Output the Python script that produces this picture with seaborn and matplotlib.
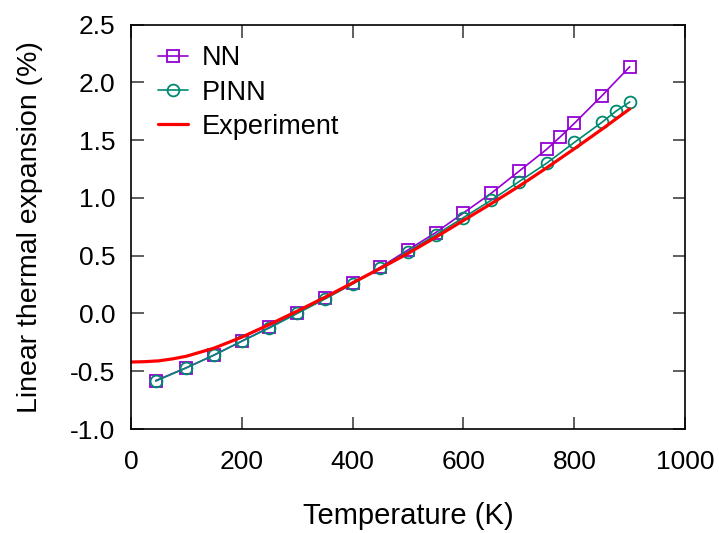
import numpy as np
import pandas as pd
import seaborn as sns
import matplotlib
matplotlib.use("Agg")
import matplotlib.pyplot as plt

# values
t_nn = [45, 100, 150, 200, 250, 300, 350, 400, 450, 500, 550, 600, 650, 700, 750, 775, 800, 850, 900]
nn = [-0.58, -0.47, -0.36, -0.24, -0.12, 0.005, 0.13, 0.26, 0.40, 0.55, 0.70, 0.87, 1.04, 1.23, 1.42, 1.53, 1.645, 1.885, 2.135]

t_pinn = [45, 100, 150, 200, 250, 300, 350, 400, 450, 500, 550, 600, 650, 700, 750, 800, 850, 875, 900]
pinn = [-0.585, -0.47, -0.36, -0.24, -0.125, 0.0, 0.125, 0.255, 0.395, 0.535, 0.68, 0.83, 0.98, 1.14, 1.30, 1.48, 1.655, 1.75, 1.83]

t_exp = [0, 25, 50, 75, 100, 150, 200, 250, 300, 350, 400, 450, 500, 550, 600, 650, 700, 750, 800, 850, 900]
exp = [-0.42, -0.417, -0.41, -0.393, -0.37, -0.30, -0.205, -0.095, 0.02, 0.14, 0.265, 0.39, 0.52, 0.66, 0.805, 0.95, 1.10, 1.26, 1.425, 1.595, 1.77]

sns.set_theme(style="ticks")
plt.rcParams['font.family'] = ['Liberation Sans', 'DejaVu Sans']
plt.rcParams['text.color'] = 'black'
plt.rcParams['axes.labelcolor'] = 'black'
plt.rcParams['xtick.color'] = 'black'
plt.rcParams['ytick.color'] = 'black'

fig, ax = plt.subplots(figsize=(7.19, 5.33), dpi=100)
fig.subplots_adjust(left=0.182, right=0.953, top=0.954, bottom=0.195)

purple = '#9400d3'
teal = '#00896f'

sns.lineplot(x=t_nn, y=nn, ax=ax, color=purple, lw=1.2, marker='s', markersize=9,
             markerfacecolor='none', markeredgecolor=purple, markeredgewidth=1.3, label='NN')
sns.lineplot(x=t_pinn, y=pinn, ax=ax, color=teal, lw=1.2, marker='o', markersize=8.5,
             markerfacecolor='none', markeredgecolor=teal, markeredgewidth=1.3, label='PINN')
sns.lineplot(x=t_exp, y=exp, ax=ax, color='#ff0000', lw=2.3, label='Experiment')

ax.set_xlim(0, 1000)
ax.set_ylim(-1.0, 2.5)
ax.set_xticks([0, 200, 400, 600, 800, 1000])
ax.set_yticks(np.arange(-1.0, 2.51, 0.5))
ax.set_yticklabels([f'{v:.1f}' for v in np.arange(-1.0, 2.51, 0.5)])

ax.set_xlabel('Temperature (K)', fontsize=21, labelpad=20)
ax.set_ylabel('Linear thermal expansion (%)', fontsize=20.5, labelpad=20)
ax.tick_params(direction='in', length=9, width=1.1, top=True, right=True,
               labelsize=19, color='#333333')
ax.tick_params(axis='x', pad=15)
ax.tick_params(axis='y', pad=11)
for s in ax.spines.values():
    s.set_linewidth(1.2)
    s.set_color('black')

ax.legend(loc='upper left', bbox_to_anchor=(0.03, 0.975), borderaxespad=0, frameon=False,
          fontsize=19.5, handlelength=1.1, handletextpad=0.5, labelspacing=0.3)

fig.savefig('out.png', dpi=100)
